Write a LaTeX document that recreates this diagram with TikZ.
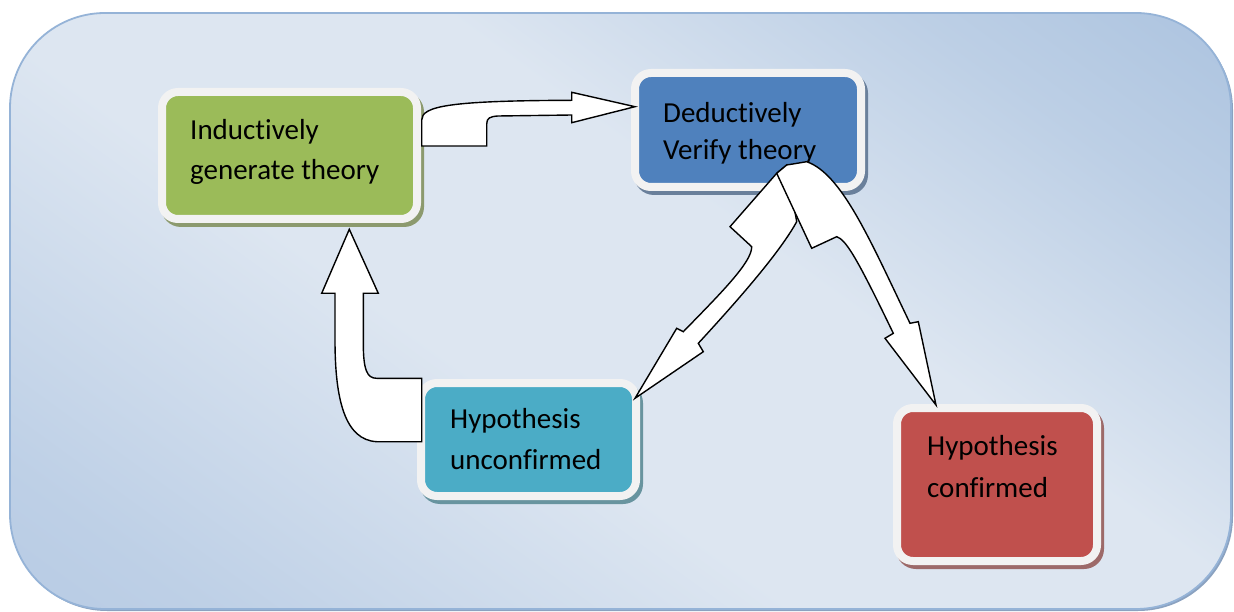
\documentclass[tikz,border=0pt]{standalone}
\usepackage{fontspec}
\setmainfont{Carlito}[Ligatures=NoCommon]
\definecolor{bgdark}{HTML}{95B3D7}
\definecolor{bglight}{HTML}{DDE6F1}
\definecolor{bgmid}{HTML}{A9C1DF}
\definecolor{bgedge}{HTML}{8EABD0}
\definecolor{boxborder}{HTML}{F2F2F2}
\definecolor{cgreen}{HTML}{9BBB59}
\definecolor{cblue}{HTML}{4F81BD}
\definecolor{cteal}{HTML}{4BACC6}
\definecolor{cred}{HTML}{C0504D}
\pgfdeclareverticalshading{bgshade}{100bp}{%
  color(0bp)=(bgmid); color(22bp)=(bgmid!60!bglight); color(42bp)=(bglight);
  color(58bp)=(bglight); color(74bp)=(bgdark!45!bglight); color(100bp)=(bgdark)}
\begin{document}
\begin{tikzpicture}[x=1pt,y=-1pt,
  boxn/.style 2 args={rounded corners=16pt, draw=boxborder, line width=8pt,
    minimum width=#1, minimum height=#2, inner sep=0pt, outer sep=0pt},
  shad/.style 2 args={rounded corners=20pt, minimum width=#1, minimum height=#2,
    inner sep=0pt, outer sep=0pt},
  lbl/.style={anchor=base west, inner sep=0pt, font=\fontsize{29}{40}\selectfont},
  arr/.style={fill=white, draw=black, line width=1.4pt, line join=miter}]
\useasboundingbox (0,0) rectangle (1234,612);
% background panel with soft shadow at lower right
\path[fill=bgedge!80!gray, rounded corners=95pt] (12,15) rectangle (1233,611);
\path[draw=bgdark, line width=1.8pt, rounded corners=95pt,
  shading=bgshade, shading angle=-36]
  (10,13) rectangle (1231,609);

% shadows
\node[shad={263pt}{135pt}, fill=cgreen!45!gray] (gs) at (292.5,159.5) {};
\node[shad={234pt}{122pt}, fill=cblue!45!gray] (bs) at (751,134) {};
\node[shad={223pt}{121pt}, fill=cteal!45!gray] (ts) at (531.5,443.5) {};
\node[shad={208pt}{161pt}, fill=cred!45!gray] (rs) at (1000,488.5) {};

% boxes
\node[boxn={255pt}{127pt}, fill=cgreen] (green) at (289.5,155.5) {};
\node[boxn={226pt}{114pt}, fill=cblue] (blue) at (748,130) {};
\node[boxn={215pt}{113pt}, fill=cteal] (teal) at (528.5,439.5) {};
\node[boxn={200pt}{153pt}, fill=cred] (red) at (997,484.5) {};

% labels
\node[lbl] (g1) at (190,140) {Inductively};
\node[lbl] (g2) at (190,180) {generate theory};
\node[lbl] (b1) at (663,123) {Deductively};
\node[lbl] (b2) at (663,160) {Verify theory};
\node[lbl] (t1) at (450,428) {Hypothesis};
\node[lbl] (t2) at (450,469) {unconfirmed};
\node[lbl] (r1) at (927,455) {Hypothesis};
\node[lbl] (r2) at (927,497) {confirmed};

% arrow green -> blue
\path[arr] (421.7,146) -- (421.7,120)
  .. controls (421.7,106) and (450,100.7) .. (571.7,100.3)
  -- (571.7,92.3) -- (635,106.7) -- (571.7,122.7) -- (571.7,115)
  -- (498,116) .. controls (490,116.5) and (486.7,118) .. (486.7,124)
  -- (486.7,146) -- cycle;

% arrow teal -> green
\path[arr] (421.7,441.7) -- (376.7,441.7)
  .. controls (345,440) and (335,400) .. (335,340)
  -- (335,293.3) -- (321.7,293.3) -- (349.3,229.3) -- (378.3,293.3)
  -- (363.3,293.3) -- (363.3,343)
  .. controls (363.3,370) and (367,378.3) .. (376.7,378.3)
  -- (421.7,378.3) -- cycle;

% arrow blue -> teal
\path[arr] (786.7,165) -- (776.7,173.3) -- (730,226.7) -- (751.7,246.7)
  .. controls (752,262) and (722,292) .. (683.3,331.7)
  -- (676.7,328.3) -- (635,398.3) -- (703.3,351.7) -- (698.3,343.3)
  .. controls (740,298) and (780,252) .. (796.7,221.7)
  -- cycle;

% arrow blue -> red
\path[arr] (776.7,173.3) -- (811.7,248.3) -- (836.7,236.7)
  .. controls (846,240) and (856,256) .. (893.3,333.3)
  -- (885,338.3) -- (936,405) -- (918.3,321.7) -- (910,323.3)
  .. controls (870,240) and (842,174) .. (806.7,161.7)
  -- (786.7,165) -- cycle;
\end{tikzpicture}
\end{document}
